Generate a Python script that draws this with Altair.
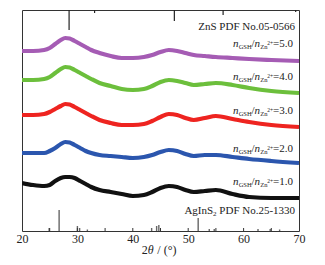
import altair as alt
import pandas as pd

# ---- data (intensity in arbitrary units) ----
xx = [20, 22, 24, 25, 26, 27, 27.8, 28.6, 29.5, 30.5, 31.5, 32.5, 34, 36, 38, 40, 42, 43.5, 45, 46.5, 48, 49.5, 51, 53, 55, 58, 61, 65, 70]
y5 = [180, 180, 181, 183, 187, 191, 193, 192.5, 190, 187, 184, 181, 178, 175, 173, 173, 174, 176, 179, 181, 180, 178, 176, 175, 174, 173, 172, 171, 170]
y4 = [151, 151, 152, 154, 158, 162, 164, 163.5, 161, 158, 155, 152, 148, 145, 142, 141, 142, 145, 149, 151, 150, 148, 146, 147, 148, 146, 143, 140, 138]
y3 = [116, 116, 117, 119, 122, 125, 127, 126.5, 124, 121, 118, 115, 111, 108, 106, 106, 107, 110, 114, 117, 116, 113, 111, 113, 115, 112, 109, 106, 104]
y2 = [78, 78, 78, 80, 83, 87, 89, 88.5, 86, 83, 80, 78, 76, 75, 74, 73, 74, 76, 79, 81, 80, 77, 75, 76, 76, 74, 72, 70, 68]
y1 = [48, 46, 45, 46, 50, 53, 54, 54, 53, 50, 47, 44, 41, 39, 37, 35, 36, 39, 43, 45, 44, 41, 39, 40, 41, 37, 34, 33, 33]

ratios = ["5.0", "4.0", "3.0", "2.0", "1.0"]
colors = ["#a55cb4", "#6cbf3c", "#ee2420", "#2b56ae", "#111111"]
label_y = [187, 154, 120, 82, 49]

zns_pos = [28.5, 33.1, 47.5, 56.3, 69.4]
zns_len = [20, 3, 11, 5, 2]
agins_pos = [24.9, 26.7, 30.0, 30.4, 31.8, 43.4, 44.3, 44.7, 51.8, 53.8, 54.7, 62.6, 64.8, 66.5]
agins_len = [3, 21, 5, 3, 1.5, 3, 5, 6, 13, 2, 2, 2, 2, 1.5]
minor_ticks = [25, 30, 35, 40, 45, 50, 55, 60, 65]

W, H = 277, 221
YMAX = 221
FONT = "Liberation Serif"
TXT = "#222222"

xs = alt.Scale(domain=[20, 70], nice=False)
ys = alt.Scale(domain=[0, YMAX], nice=False, zero=False)

rows = []
for r, yy in zip(ratios, [y5, y4, y3, y2, y1]):
    for a, b in zip(xx, yy):
        rows.append({"ratio": r, "x": a, "y": b})
df = pd.DataFrame(rows)

lines = alt.Chart(df).mark_line(strokeWidth=4.2, interpolate="monotone", clip=True).encode(
    x=alt.X("x:Q", scale=xs, axis=alt.Axis(values=[20, 30, 40, 50, 60, 70], ticks=False, domain=False,
                                          grid=False, labelFont=FONT, labelFontSize=12, labelColor=TXT,
                                          labelPadding=2, title=None, labelFlush=False)),
    y=alt.Y("y:Q", scale=ys, axis=None),
    color=alt.Color("ratio:N", scale=alt.Scale(domain=ratios, range=colors), legend=None),
    detail="ratio:N",
)

zdf = pd.DataFrame({"x": zns_pos, "top": [YMAX] * len(zns_pos), "bot": [YMAX - l for l in zns_len]})
zsticks = alt.Chart(zdf).mark_rule(color="#222", strokeWidth=1.2).encode(
    x=alt.X("x:Q", scale=xs), y=alt.Y("top:Q", scale=ys), y2="bot:Q")

adf = pd.DataFrame({"x": agins_pos, "b": [0] * len(agins_pos), "t": agins_len})
asticks = alt.Chart(adf).mark_rule(color="#666", strokeWidth=1.4).encode(
    x=alt.X("x:Q", scale=xs), y=alt.Y("b:Q", scale=ys), y2="t:Q")

tdf = pd.DataFrame({"x": minor_ticks, "b": [0] * len(minor_ticks), "t": [3] * len(minor_ticks)})
ticks = alt.Chart(tdf).mark_rule(color="#333", strokeWidth=1).encode(
    x=alt.X("x:Q", scale=xs), y=alt.Y("b:Q", scale=ys), y2="t:Q")

# ratio labels composed of pieces
LX = 58.1
pieces = [  # text, dx, dy, size, style
    ("n", 0, 0, 11, "italic"),
    ("GSH", 5.6, 3, 6.5, "normal"),
    ("/", 18.4, 0, 11, "normal"),
    ("n", 21.5, 0, 11, "italic"),
    ("Zn", 27.1, 3, 6.5, "normal"),
]
lab_layers = []
ldf = pd.DataFrame({"x": [LX] * 5, "y": label_y, "eq": ["=" + r for r in ratios]})
for t, dx, dy, sz, st in pieces:
    lab_layers.append(alt.Chart(ldf).mark_text(text=t, align="left", baseline="middle", dx=dx, dy=dy,
                                               fontSize=sz, fontStyle=st, font=FONT, color=TXT).encode(
        x=alt.X("x:Q", scale=xs), y=alt.Y("y:Q", scale=ys)))
lab_layers.append(alt.Chart(ldf).mark_text(text="2+", align="left", baseline="middle", dx=34.3, dy=-1,
                                           fontSize=5.5, font=FONT, color=TXT).encode(
    x=alt.X("x:Q", scale=xs), y=alt.Y("y:Q", scale=ys)))
lab_layers.append(alt.Chart(ldf).mark_text(align="left", baseline="middle", dx=40, dy=0,
                                           fontSize=11, font=FONT, color=TXT).encode(
    x=alt.X("x:Q", scale=xs), y=alt.Y("y:Q", scale=ys), text="eq:N"))

# reference titles
rdf = pd.DataFrame({"x": [69.3], "yz": [204], "ya": [20]})
zt = alt.Chart(rdf).mark_text(text="ZnS PDF No.05-0566", align="right", baseline="middle", fontSize=11,
                              font=FONT, color=TXT).encode(x=alt.X("x:Q", scale=xs), y=alt.Y("yz:Q", scale=ys))
a1 = alt.Chart(rdf).mark_text(text="PDF No.25-1330", align="right", baseline="middle", fontSize=11,
                              font=FONT, color=TXT).encode(x=alt.X("x:Q", scale=xs), y=alt.Y("ya:Q", scale=ys))
a2 = alt.Chart(rdf).mark_text(text="2", align="right", baseline="middle", dx=-78.5, dy=3, fontSize=7,
                              font=FONT, color=TXT).encode(x=alt.X("x:Q", scale=xs), y=alt.Y("ya:Q", scale=ys))
a3 = alt.Chart(rdf).mark_text(text="AgInS", align="right", baseline="middle", dx=-82, fontSize=11,
                              font=FONT, color=TXT).encode(x=alt.X("x:Q", scale=xs), y=alt.Y("ya:Q", scale=ys))

# x-axis title "2θ / (°)"
tx = pd.DataFrame({"x": [44.7]})
t1 = alt.Chart(tx).mark_text(text="2", align="left", baseline="middle", dx=-17, fontSize=12, font=FONT,
                             color=TXT).encode(x=alt.X("x:Q", scale=xs), y=alt.value(H + 19))
t2 = alt.Chart(tx).mark_text(text="θ", align="left", baseline="middle", dx=-11, fontSize=12, font=FONT,
                             fontStyle="italic", color=TXT).encode(x=alt.X("x:Q", scale=xs), y=alt.value(H + 19))
t3 = alt.Chart(tx).mark_text(text="/ (°)", align="left", baseline="middle", dx=-1.5, fontSize=12, font=FONT,
                             color=TXT).encode(x=alt.X("x:Q", scale=xs), y=alt.value(H + 19))

chart = alt.layer(lines, zsticks, asticks, ticks, *lab_layers, zt, a1, a2, a3, t1, t2, t3).properties(
    width=W, height=H, autosize=alt.AutoSizeParams(type="none"),
    padding={"left": 14, "top": 2, "right": 12, "bottom": 30}, background="white",
).configure_view(stroke="#333", strokeWidth=1)

chart.save("out.html", embed_options={"renderer": "svg", "actions": False})
